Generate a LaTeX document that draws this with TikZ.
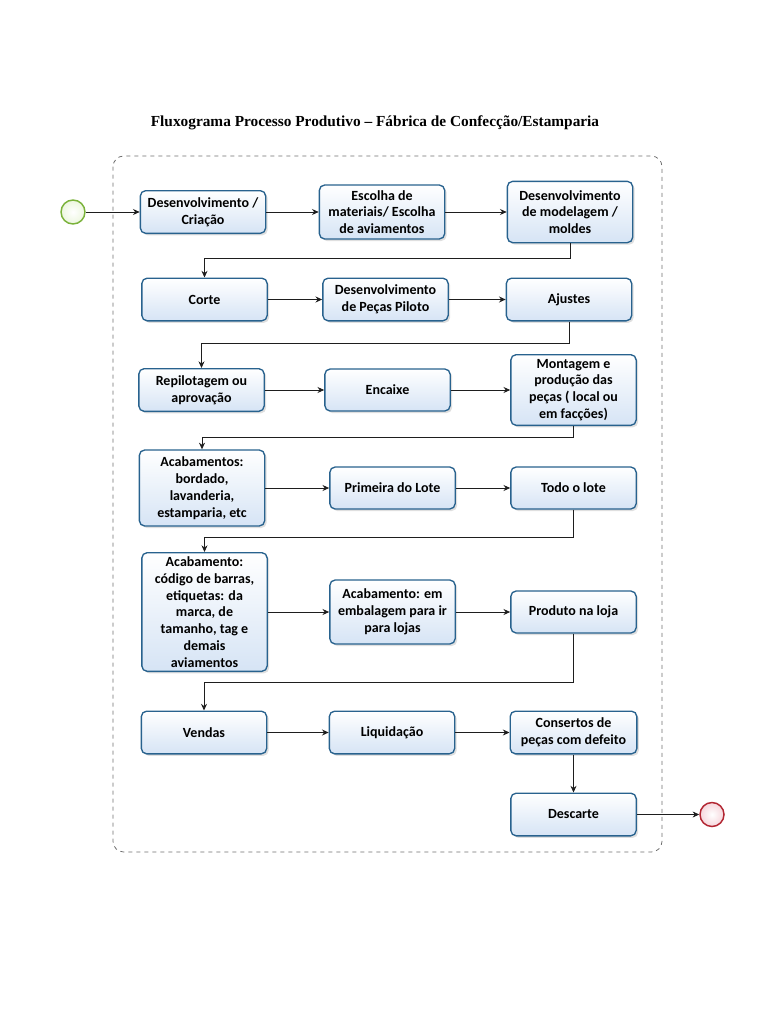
\documentclass[tikz,border=0pt]{standalone}
\usepackage{fontspec}
\setmainfont{Carlito}
\newfontfamily\titlefont{Liberation Serif}
\usetikzlibrary{arrows.meta, shadows}
\definecolor{boxborder}{RGB}{40,98,142}
\definecolor{boxfill}{RGB}{214,228,245}
\definecolor{startline}{RGB}{122,178,58}
\definecolor{startfill}{RGB}{236,246,222}
\definecolor{endline}{RGB}{178,38,50}
\definecolor{endfill}{RGB}{246,214,220}
\definecolor{flowline}{RGB}{30,30,30}
\definecolor{frameline}{RGB}{110,110,110}

\tikzset{
  task/.style={draw=boxborder, line width=1pt, rounded corners=4pt, top color=white, bottom color=boxfill,
    drop shadow={opacity=0.25, shadow xshift=1.5pt, shadow yshift=-1.5pt},
    align=center, minimum width=94pt, minimum height=32pt, inner sep=2pt,
    font=\bfseries\fontsize{10.5}{12.6}\selectfont},
  flow/.style={-{Stealth[length=5pt, width=4.5pt]}, draw=flowline, line width=0.7pt},
}

\begin{document}
\begin{tikzpicture}[x=0.75pt, y=-0.75pt]
  \useasboundingbox (0,0) rectangle (768,1024);
  % Title and pool
  \node[font=\titlefont\bfseries\fontsize{11.5}{14}\selectfont] (title) at (375,123) {Fluxograma Processo Produtivo – Fábrica de Confecção/Estamparia};
  \draw[frameline, dashed, line width=0.6pt, rounded corners=8pt] (113,156) rectangle (662,852);

  % Events
  \node[draw=startline, line width=1.1pt, circle, minimum size=18pt, inner color=white, outer color=startfill] (inicio) at (73,212) {};
  \node[draw=endline, line width=1.1pt, circle, minimum size=18pt, inner color=white, outer color=endfill] (fim) at (712,814.5) {};

  % Row 1
  \node[task] (desen) at (203,212) {Desenvolvimento /\\Criação};
  \node[task, minimum height=40.5pt] (escolha) at (382,212) {Escolha de\\materiais/ Escolha\\de aviamentos};
  \node[task, minimum height=46pt] (modelagem) at (570,212) {Desenvolvimento\\de modelagem /\\moldes};
  % Row 2
  \node[task] (corte) at (204.5,299.5) {Corte};
  \node[task] (piloto) at (385.5,299.5) {Desenvolvimento\\de Peças Piloto};
  \node[task] (ajustes) at (569,299.5) {Ajustes};
  % Row 3
  \node[task] (repilot) at (201.5,390) {Repilotagem ou\\aprovação};
  \node[task, minimum height=31.5pt] (encaixe) at (387.5,390) {Encaixe};
  \node[task, minimum height=53pt] (montagem) at (573.5,390) {Montagem e\\produção das\\peças ( local ou\\em facções)};
  % Row 4
  \node[task, minimum height=57pt] (acabam) at (202,488) {Acabamentos:\\bordado,\\lavanderia,\\estamparia, etc};
  \node[task, minimum height=31.5pt] (primeira) at (392.5,488) {Primeira do Lote};
  \node[task, minimum height=31.5pt] (todo) at (573.5,488) {Todo o lote};
  % Row 5
  \node[task, minimum height=89pt] (etiqueta) at (204.5,612) {Acabamento:\\código de barras,\\etiquetas: da\\marca, de\\tamanho, tag e\\demais\\aviamentos};
  \node[task, minimum height=48pt] (embalagem) at (392.5,612) {Acabamento: em\\embalagem para ir\\para lojas};
  \node[task, minimum height=31.5pt] (produto) at (573.5,612) {Produto na loja};
  % Row 6
  \node[task] (vendas) at (204,732.5) {Vendas};
  \node[task] (liquida) at (392,732.5) {Liquidação};
  \node[task, minimum width=95pt] (conserto) at (573.5,732.5) {Consertos de\\peças com defeito};
  \node[task] (descarte) at (573.5,814.5) {Descarte};

  % Arrows
  \draw[flow] (inicio) -- (desen);
  \draw[flow] (desen) -- (escolha);
  \draw[flow] (escolha) -- (modelagem);
  \draw[flow] (modelagem.south) -- ++(0,15) -| (corte.north);
  \draw[flow] (corte) -- (piloto);
  \draw[flow] (piloto) -- (ajustes);
  \draw[flow] (ajustes.south) -- ++(0,22) -| (repilot.north);
  \draw[flow] (repilot) -- (encaixe);
  \draw[flow] (encaixe) -- (montagem);
  \draw[flow] (montagem.south) -- ++(0,11) -| (acabam.north);
  \draw[flow] (acabam) -- (primeira);
  \draw[flow] (primeira) -- (todo);
  \draw[flow] (todo.south) -- ++(0,28) -| (etiqueta.north);
  \draw[flow] (etiqueta) -- (embalagem);
  \draw[flow] (embalagem) -- (produto);
  \draw[flow] (produto.south) -- ++(0,49) -| (vendas.north);
  \draw[flow] (vendas) -- (liquida);
  \draw[flow] (liquida) -- (conserto);
  \draw[flow] (conserto) -- (descarte);
  \draw[flow] (descarte) -- (fim);
\end{tikzpicture}
\end{document}
